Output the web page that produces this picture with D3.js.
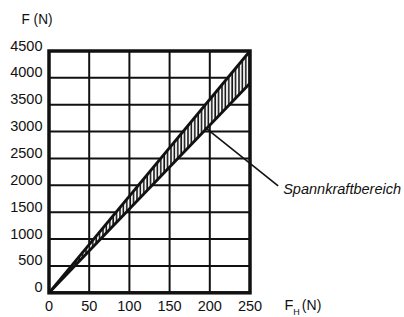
<!DOCTYPE html>
<html>
<head>
<meta charset="utf-8">
<script src="https://cdn.jsdelivr.net/npm/d3@7/dist/d3.min.js"></script>
<style>
  html, body { margin: 0; padding: 0; background: #fff; }
  svg { display: block; }
  text { font-family: "Liberation Sans", Arial, Helvetica, sans-serif; fill: #111; }
</style>
</head>
<body>
<svg id="chart" width="404" height="317"></svg>
<script>
// ---- data ----
const xTicks = [0, 50, 100, 150, 200, 250];
const yTicks = [0, 500, 1000, 1500, 2000, 2500, 3000, 3500, 4000, 4500];
const fhValues = [0, 250];          // hand force F_H (N)
const fUpper = [0, 4500];           // upper clamping force F (N)
const fLower = [0, 3900];           // lower clamping force F (N)
const annotationLabel = "Spannkraftbereich";
const annotationFrom = [194, 3080]; // [F_H, F] point inside band
const annotationTo = [285, 1990];   // [F_H, F] end of leader line
const yTitle = "F (N)";
const xTitleMain = "F";
const xTitleSub = "H";
const xTitleUnit = "(N)";

// ---- layout ----
const svg = d3.select("#chart");
const x = d3.scaleLinear().domain([0, 250]).range([49, 250]);
const y = d3.scaleLinear().domain([0, 4500]).range([292.8, 51]);

const defs = svg.append("defs");
const pat = defs.append("pattern")
  .attr("id", "hatch").attr("patternUnits", "userSpaceOnUse")
  .attr("width", 3.4).attr("height", 10);
pat.append("rect").attr("width", 3.4).attr("height", 10).attr("fill", "#fff");
pat.append("line").attr("x1", 1).attr("x2", 1).attr("y1", 0).attr("y2", 10)
  .attr("stroke", "#111").attr("stroke-width", 1.6);

// grid
const g = svg.append("g");
g.selectAll("line.v").data(xTicks).join("line")
  .attr("x1", d => x(d)).attr("x2", d => x(d))
  .attr("y1", y(0)).attr("y2", y(4500))
  .attr("stroke", "#111").attr("stroke-width", 2);
g.selectAll("line.h").data(yTicks).join("line")
  .attr("x1", x(0)).attr("x2", x(250))
  .attr("y1", d => y(d)).attr("y2", d => y(d))
  .attr("stroke", "#111").attr("stroke-width", 2);

// band
const band = fhValues.map((v, i) => [v, fUpper[i]])
  .concat(fhValues.map((v, i) => [v, fLower[i]]).reverse());
svg.append("path")
  .attr("d", d3.line().x(d => x(d[0])).y(d => y(d[1]))(band) + "Z")
  .attr("fill", "url(#hatch)").attr("stroke", "none");
const line = d3.line().x(d => x(d[0])).y(d => y(d[1]));
svg.append("path").attr("d", line(fhValues.map((v, i) => [v, fUpper[i]])))
  .attr("stroke", "#111").attr("stroke-width", 2.8).attr("fill", "none");
svg.append("path").attr("d", line(fhValues.map((v, i) => [v, fLower[i]])))
  .attr("stroke", "#111").attr("stroke-width", 2.8).attr("fill", "none");

// frame
svg.append("rect")
  .attr("x", x(0)).attr("y", y(4500))
  .attr("width", x(250) - x(0)).attr("height", y(0) - y(4500))
  .attr("fill", "none").attr("stroke", "#111").attr("stroke-width", 3.5);

// leader line
svg.append("line")
  .attr("x1", x(annotationFrom[0])).attr("y1", y(annotationFrom[1]))
  .attr("x2", x(annotationTo[0])).attr("y2", y(annotationTo[1]))
  .attr("stroke", "#111").attr("stroke-width", 1.6);
svg.append("text")
  .attr("x", x(annotationTo[0]) + 5).attr("y", y(annotationTo[1]) + 8)
  .attr("font-size", 15).attr("font-style", "italic")
  .attr("textLength", 118).attr("lengthAdjust", "spacingAndGlyphs")
  .text(annotationLabel);

// tick labels
svg.selectAll("text.yt").data(yTicks).join("text")
  .attr("class", "yt")
  .attr("x", 42.5).attr("y", d => y(d) - 0.5)
  .attr("text-anchor", "end").attr("font-size", 14.5)
  .text(d => d);
svg.selectAll("text.xt").data(xTicks).join("text")
  .attr("class", "xt")
  .attr("x", d => x(d)).attr("y", 310.5)
  .attr("text-anchor", "middle").attr("font-size", 14.5)
  .text(d => d);

// titles
svg.append("text").attr("x", 21.5).attr("y", 23.7).attr("font-size", 14.5)
  .attr("textLength", 31).attr("lengthAdjust", "spacingAndGlyphs")
  .text(yTitle);
const xt = svg.append("text").attr("x", 284.5).attr("y", 310).attr("font-size", 14.5);
xt.append("tspan").text(xTitleMain);
xt.append("tspan").attr("font-size", 9).attr("dy", 5).text(xTitleSub);
xt.append("tspan").attr("dy", -5).attr("dx", 2).attr("font-size", 14).text(xTitleUnit);
</script>
</body>
</html>
